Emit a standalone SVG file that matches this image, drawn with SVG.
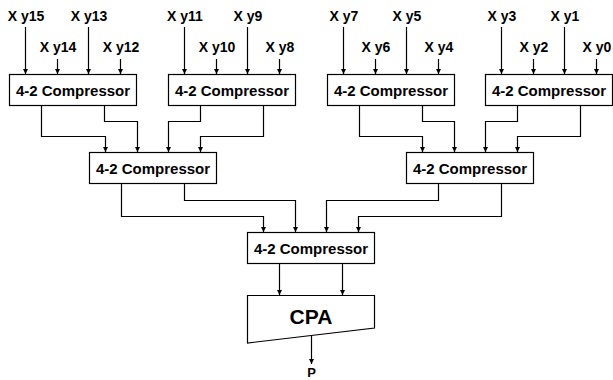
<svg xmlns="http://www.w3.org/2000/svg" width="613" height="380" viewBox="0 0 613 380">
<style>
.box{fill:#fff;stroke:#000;stroke-width:1.2}
.lbl{font-family:"Liberation Sans",Arial,Helvetica,sans-serif;font-weight:bold;font-size:14px;text-anchor:middle;fill:#000}
.bt{font-family:"Liberation Sans",Arial,Helvetica,sans-serif;font-weight:bold;font-size:15px;text-anchor:middle;fill:#000}
.cpa{font-family:"Liberation Sans",Arial,Helvetica,sans-serif;font-weight:bold;font-size:21px;text-anchor:middle;fill:#000}
.w{fill:none;stroke:#000;stroke-width:1.2;marker-end:url(#ah)}
</style>
<defs>
<marker id="ah" viewBox="0 0 10 10" refX="10" refY="5" markerUnits="userSpaceOnUse" markerWidth="5" markerHeight="7" orient="auto">
<path d="M0,0 L10,5 L0,10 z" fill="#000"/>
</marker>
</defs>
<rect width="613" height="380" fill="#fff"/>

<g id="connectors">
<path class="w" d="M25.5,27 V74"/><path class="w" d="M57.5,59 V74"/><path class="w" d="M88.5,27 V74"/><path class="w" d="M120.5,59 V74"/>
<path class="w" d="M184.5,27 V74"/><path class="w" d="M216.5,59 V74"/><path class="w" d="M247.5,27 V74"/><path class="w" d="M279.5,59 V74"/>
<path class="w" d="M343.5,27 V74"/><path class="w" d="M375.5,59 V74"/><path class="w" d="M406.5,27 V74"/><path class="w" d="M438.5,59 V74"/>
<path class="w" d="M501.5,27 V74"/><path class="w" d="M533.5,59 V74"/><path class="w" d="M564.5,27 V74"/><path class="w" d="M596.5,59 V74"/>

<path class="w" d="M41.5,105 V136.5 H105.5 V152"/>
<path class="w" d="M104.5,105 V121.5 H137.5 V152"/>
<path class="w" d="M200.5,105 V121.5 H168.5 V152"/>
<path class="w" d="M263.5,105 V136.5 H200.5 V152"/>
<path class="w" d="M359.5,105 V136.5 H422.5 V152"/>
<path class="w" d="M422.5,105 V121.5 H454.5 V152"/>
<path class="w" d="M517.5,105 V121.5 H485.5 V152"/>
<path class="w" d="M580.5,105 V136.5 H517.5 V152"/>

<path class="w" d="M121.5,183.5 V216.5 H263.5 V232"/>
<path class="w" d="M184.5,183.5 V200.5 H295.5 V232"/>
<path class="w" d="M438.5,183.5 V200.5 H326.5 V232"/>
<path class="w" d="M501.5,183.5 V216.5 H358.5 V232"/>

<path class="w" d="M279.5,263.5 V295"/>
<path class="w" d="M342.5,263.5 V295"/>

<path class="w" d="M311.5,335.5 V364"/>
</g>

<g id="labels">
<text class="lbl" x="26" y="21">X y15</text>
<text class="lbl" x="58" y="52">X y14</text>
<text class="lbl" x="89" y="21">X y13</text>
<text class="lbl" x="121" y="52">X y12</text>
<text class="lbl" x="185" y="21">X y11</text>
<text class="lbl" x="217" y="52">X y10</text>
<text class="lbl" x="248" y="21">X y9</text>
<text class="lbl" x="280" y="52">X y8</text>
<text class="lbl" x="344" y="21">X y7</text>
<text class="lbl" x="376" y="52">X y6</text>
<text class="lbl" x="407" y="21">X y5</text>
<text class="lbl" x="439" y="52">X y4</text>
<text class="lbl" x="502" y="21">X y3</text>
<text class="lbl" x="534" y="52">X y2</text>
<text class="lbl" x="565" y="21">X y1</text>
<text class="lbl" x="597" y="52">X y0</text>
<text class="lbl" x="311.5" y="376.5" style="font-size:13px">P</text>
</g>

<g id="c1"><rect class="box" x="9.5" y="74.5" width="127" height="31"/><text class="bt" x="73" y="95.5">4-2 Compressor</text></g>
<g id="c2"><rect class="box" x="168.5" y="74.5" width="127" height="31"/><text class="bt" x="232" y="95.5">4-2 Compressor</text></g>
<g id="c3"><rect class="box" x="327.5" y="74.5" width="127" height="31"/><text class="bt" x="391" y="95.5">4-2 Compressor</text></g>
<g id="c4"><rect class="box" x="485.5" y="74.5" width="127" height="31"/><text class="bt" x="549" y="95.5">4-2 Compressor</text></g>
<g id="c5"><rect class="box" x="89.5" y="152.5" width="127" height="31"/><text class="bt" x="153" y="173.5">4-2 Compressor</text></g>
<g id="c6"><rect class="box" x="406.5" y="152.5" width="127" height="31"/><text class="bt" x="470" y="173.5">4-2 Compressor</text></g>
<g id="c7"><rect class="box" x="247.5" y="232.5" width="127" height="31"/><text class="bt" x="311" y="253.5">4-2 Compressor</text></g>
<g id="cpa"><polygon class="box" points="247.5,295.5 374.5,295.5 374.5,328 247.5,343"/><text class="cpa" x="311" y="324">CPA</text></g>
</svg>
